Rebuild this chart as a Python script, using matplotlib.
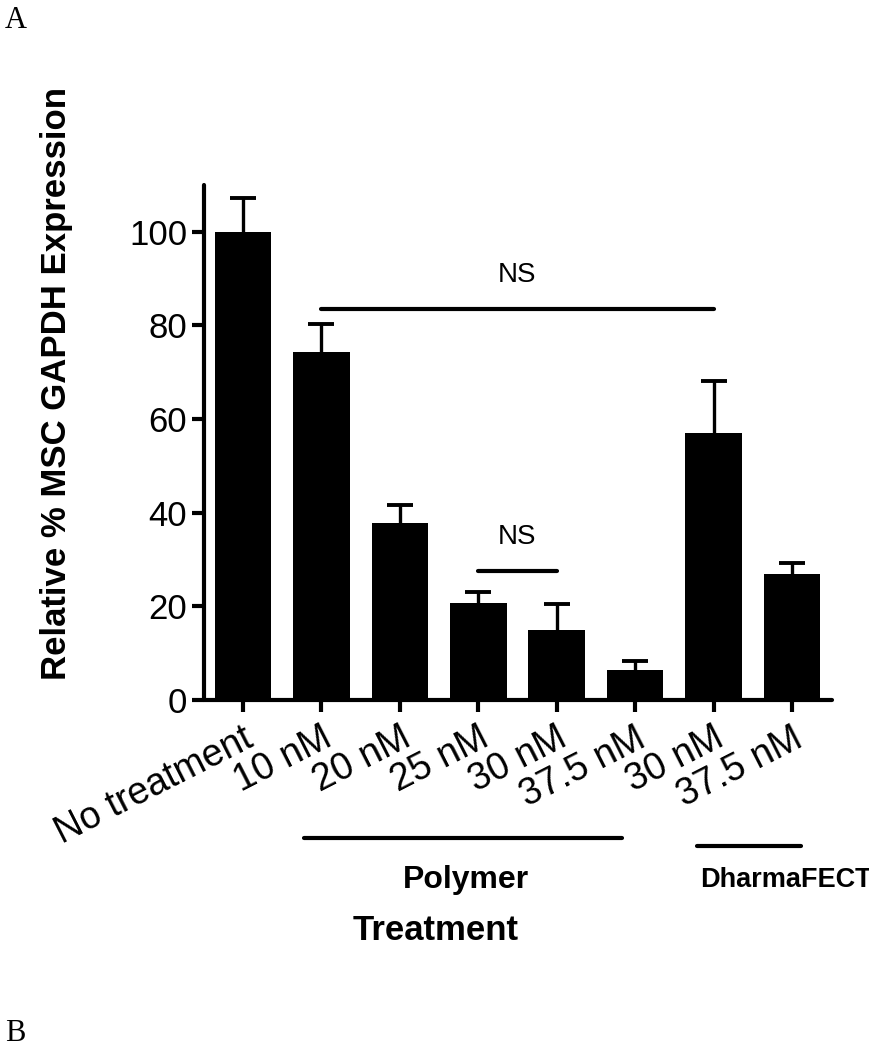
import matplotlib
matplotlib.use("Agg")
import matplotlib.pyplot as plt
import matplotlib.transforms as mtransforms
import numpy as np

plt.rcParams['font.family'] = ['Liberation Sans', 'DejaVu Sans']

# ---- data ----
categories = ["No treatment", "10 nM", "20 nM", "25 nM", "30 nM", "37.5 nM", "30 nM", "37.5 nM"]
means = [100.0, 74.3, 37.8, 20.7, 15.0, 6.4, 57.0, 26.9]
errors = [7.2, 6.0, 3.9, 2.3, 5.4, 1.9, 11.2, 2.4]
y_ticks = [0, 20, 40, 60, 80, 100]
y_label = "Relative % MSC GAPDH Expression"
x_title = "Treatment"
group_names = ["Polymer", "DharmaFECT"]
sig_pairs = [(1, 6), (3, 4)]
sig_levels = [83.5, 27.5]
sig_texts = ["NS", "NS"]

fig = plt.figure(figsize=(8.7, 10.5), dpi=100)
ax = fig.add_axes([204/870, 1-700/1050, (832-204)/870, (700-185)/1050])

x = np.arange(len(categories))
ax.bar(x, means, width=0.72, color='black', edgecolor='black', linewidth=0, zorder=2)
eb = ax.errorbar(x, means, yerr=[np.zeros(len(errors)), errors], fmt='none', ecolor='black',
                 elinewidth=2.4, capsize=9.5, capthick=2.8, zorder=1)
# hide the lower caps (only upper error bars are shown)
eb[1][0].set_visible(False)

ax.set_xlim(-0.497, 7.51)
ax.set_ylim(0, 110)
ax.set_yticks(y_ticks)
ax.set_xticks(x)
ax.set_xticklabels(categories, rotation=27, ha='right', rotation_mode='anchor', fontsize=27)
offset = mtransforms.ScaledTranslation(-6/100, 0, fig.dpi_scale_trans)
for lab in ax.get_xticklabels():
    lab.set_transform(lab.get_transform() + offset)
ax.tick_params(axis='y', labelsize=25, width=3, length=9, direction='out', pad=3)
ax.tick_params(axis='x', width=3, length=8.5, direction='out', pad=6)
for s in ['top', 'right']:
    ax.spines[s].set_visible(False)
for s in ['left', 'bottom']:
    ax.spines[s].set_linewidth(3)
    ax.spines[s].set_capstyle('round')

# significance bars
for (a, b), lvl, txt in zip(sig_pairs, sig_levels, sig_texts):
    ax.plot([a, b], [lvl, lvl], color='black', lw=3, solid_capstyle='round', zorder=3)
    ax.text((a + b) / 2, lvl + 4.5, txt, ha='center', va='bottom', fontsize=20)

# group annotations below axis
btrans = mtransforms.blended_transform_factory(ax.transData, ax.transAxes)
group_spans = [(0.78, 4.83, -0.268), (5.79, 7.12, -0.283)]
group_text_x = [2.84, 6.92]
group_sizes = [23, 19.5]
for (g0, g1, gy), name, tx, fs in zip(group_spans, group_names, group_text_x, group_sizes):
    ax.plot([g0, g1], [gy, gy], color='black', lw=3, solid_capstyle='round',
            transform=btrans, clip_on=False)
    ax.text(tx, -0.35, name, ha='center', va='center', fontsize=fs, fontweight='bold',
            transform=btrans)
ax.text(2.46, -0.447, x_title, ha='center', va='center', fontsize=25, fontweight='bold',
        transform=btrans)

fig.text(57/870, 1-384/1050, y_label, rotation=90, ha='center', va='center',
         fontsize=25, fontweight='bold')

fig.text(5/870, 1-6/1050, "A", ha='left', va='top', fontsize=22, family='Liberation Serif')
fig.text(5/870, 2/1050, "B", ha='left', va='bottom', fontsize=22, family='Liberation Serif')

fig.savefig("out.png", dpi=100)
